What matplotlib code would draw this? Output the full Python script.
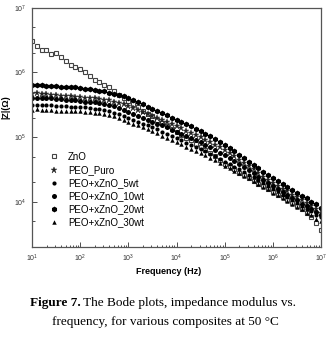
"""Bode plot |Z| vs frequency for PEO/ZnO composites at 50 C (Figure 7)."""
import matplotlib
matplotlib.use("Agg")
import matplotlib.pyplot as plt
import numpy as np
from matplotlib.ticker import FixedLocator, NullFormatter

plt.rcParams["font.family"] = ["Liberation Sans", "DejaVu Sans"]
plt.rcParams["mathtext.default"] = "regular"

# measurement sweep: 10 points per decade, 10 Hz .. 10 MHz
freq = np.logspace(1, 7, 61)
x_ticks = [1e1, 1e2, 1e3, 1e4, 1e5, 1e6, 1e7]
y_ticks = [1e4, 1e5, 1e6, 1e7]

# log10(|Z| / ohm)
zno = [6.48, 6.41, 6.35, 6.35, 6.29, 6.30, 6.24, 6.18, 6.12, 6.09, 6.05,
       6.00, 5.94, 5.88, 5.85, 5.80, 5.77, 5.71, 5.65, 5.60, 5.56,
       5.51, 5.46, 5.41, 5.36, 5.32, 5.27, 5.22, 5.17, 5.12, 5.08,
       5.04, 4.99, 4.95, 4.90, 4.85, 4.80, 4.75, 4.70, 4.64, 4.59,
       4.55, 4.50, 4.45, 4.41, 4.36, 4.32, 4.28, 4.24, 4.19, 4.15,
       4.11, 4.07, 4.03, 3.98, 3.94, 3.89, 3.83, 3.76, 3.67, 3.56]
peo_puro = [5.67, 5.68, 5.66, 5.66, 5.65, 5.65, 5.64, 5.64, 5.63, 5.62, 5.62,
            5.61, 5.61, 5.60, 5.59, 5.58, 5.57, 5.55, 5.53, 5.51, 5.48,
            5.45, 5.42, 5.39, 5.36, 5.33, 5.30, 5.27, 5.23, 5.20, 5.17,
            5.14, 5.10, 5.07, 5.03, 5.00, 4.96, 4.92, 4.88, 4.84, 4.80,
            4.75, 4.70, 4.65, 4.60, 4.55, 4.50, 4.45, 4.39, 4.34, 4.29,
            4.25, 4.20, 4.16, 4.11, 4.07, 4.02, 3.98, 3.93, 3.88, 3.83]
zno_5wt = [5.50, 5.50, 5.49, 5.49, 5.49, 5.48, 5.48, 5.48, 5.47, 5.47, 5.46,
           5.46, 5.45, 5.44, 5.43, 5.42, 5.40, 5.38, 5.36, 5.33, 5.30,
           5.27, 5.24, 5.21, 5.18, 5.15, 5.12, 5.08, 5.05, 5.01, 4.98,
           4.95, 4.91, 4.88, 4.85, 4.82, 4.78, 4.74, 4.70, 4.66, 4.62,
           4.58, 4.54, 4.50, 4.46, 4.42, 4.38, 4.34, 4.29, 4.25, 4.20,
           4.16, 4.11, 4.07, 4.02, 3.98, 3.93, 3.89, 3.85, 3.80, 3.76]
zno_10wt = [5.61, 5.61, 5.60, 5.60, 5.60, 5.59, 5.59, 5.58, 5.57, 5.57, 5.56,
            5.55, 5.55, 5.54, 5.53, 5.51, 5.50, 5.48, 5.45, 5.42, 5.39,
            5.36, 5.33, 5.30, 5.27, 5.24, 5.21, 5.18, 5.15, 5.11, 5.08,
            5.05, 5.02, 4.99, 4.95, 4.92, 4.88, 4.84, 4.80, 4.76, 4.72,
            4.67, 4.63, 4.58, 4.54, 4.49, 4.44, 4.39, 4.34, 4.29, 4.24,
            4.20, 4.15, 4.11, 4.06, 4.02, 3.97, 3.93, 3.88, 3.84, 3.79]
zno_20wt = [5.80, 5.80, 5.81, 5.79, 5.79, 5.79, 5.78, 5.78, 5.77, 5.77, 5.76,
            5.75, 5.75, 5.73, 5.72, 5.71, 5.69, 5.67, 5.65, 5.63, 5.60,
            5.57, 5.54, 5.51, 5.47, 5.44, 5.41, 5.37, 5.34, 5.30, 5.27,
            5.24, 5.20, 5.17, 5.13, 5.09, 5.05, 5.01, 4.97, 4.93, 4.88,
            4.83, 4.78, 4.73, 4.67, 4.62, 4.57, 4.52, 4.46, 4.41, 4.36,
            4.32, 4.27, 4.23, 4.18, 4.14, 4.09, 4.05, 4.00, 3.96, 3.91]
zno_30wt = [5.42, 5.43, 5.42, 5.42, 5.42, 5.41, 5.41, 5.41, 5.40, 5.40, 5.40,
            5.39, 5.39, 5.38, 5.37, 5.36, 5.34, 5.32, 5.30, 5.27, 5.24,
            5.21, 5.18, 5.15, 5.12, 5.09, 5.06, 5.02, 4.99, 4.95, 4.92,
            4.89, 4.85, 4.82, 4.79, 4.76, 4.72, 4.68, 4.64, 4.60, 4.56,
            4.52, 4.48, 4.44, 4.40, 4.36, 4.32, 4.28, 4.23, 4.19, 4.14,
            4.10, 4.05, 4.01, 3.96, 3.92, 3.88, 3.83, 3.79, 3.74, 3.70]

series = [
    ("ZnO", zno, dict(marker="s", ms=3.0, mfc="white", mec="#444444", mew=0.8)),
    ("PEO_Puro", peo_puro, dict(marker="*", ms=4.5, mfc="#222222", mec="#222222", mew=0.3)),
    ("PEO+xZnO_5wt", zno_5wt, dict(marker="o", ms=3.0, mfc="black", mec="black", mew=0)),
    ("PEO+xZnO_10wt", zno_10wt, dict(marker="o", ms=3.6, mfc="black", mec="black", mew=0)),
    ("PEO+xZnO_20wt", zno_20wt, dict(marker="h", ms=4.2, mfc="black", mec="black", mew=0)),
    ("PEO+xZnO_30wt", zno_30wt, dict(marker="^", ms=3.2, mfc="black", mec="black", mew=0)),
]

fig = plt.figure(figsize=(3.30, 3.41), dpi=100)
ax = fig.add_axes([0.097, 0.276, 0.876, 0.701])

for label, logz, style in series:
    ax.plot(freq, 10 ** np.array(logz), ls="none", label=label, **style)

ax.set_xscale("log")
ax.set_yscale("log")
ax.set_xlim(10, 1e7)
ax.set_ylim(2000, 1e7)

for s in ax.spines.values():
    s.set_color("#555555")
    s.set_linewidth(0.9)

x_minor = [m * d for d in x_ticks[:-1] for m in range(2, 10)]
y_minor = [m * d for d in [1e3] + y_ticks[:-1] for m in (2, 5) if 2000 <= m * d < 1e7]
ax.xaxis.set_major_locator(FixedLocator(x_ticks))
ax.xaxis.set_minor_locator(FixedLocator(x_minor))
ax.xaxis.set_minor_formatter(NullFormatter())
ax.yaxis.set_major_locator(FixedLocator(y_ticks))
ax.yaxis.set_minor_locator(FixedLocator(y_minor))
ax.yaxis.set_minor_formatter(NullFormatter())
ax.tick_params(which="both", direction="in", top=False, right=False,
               colors="#333333", labelsize=5, width=0.6)
ax.tick_params(which="major", length=3.5, pad=4)
ax.tick_params(which="minor", length=1.8)

ax.set_xlabel("Frequency (Hz)", fontsize=6.5, fontweight="bold")
ax.set_ylabel("|Z|(Ω)", fontsize=6.5, fontweight="bold")
ax.xaxis.set_label_coords(0.474, -0.085)
ax.yaxis.set_label_coords(-0.075, 0.586)

ax.legend(loc="lower left", bbox_to_anchor=(0.03, 0.045), frameon=False,
          fontsize=7, labelspacing=0.32, handletextpad=0.9, handlelength=1.0,
          borderaxespad=0.5)

# caption: bold "Figure 7." followed by regular text, centred as one line
cap_font = dict(family=["Liberation Serif", "DejaVu Serif"], fontsize=9.5)
renderer = fig.canvas.get_renderer()
t1 = fig.text(0.1, 1 - 303 / 341, "Figure 7.", fontweight="bold", va="center", **cap_font)
t2 = fig.text(0.3, 1 - 303 / 341, " The Bode plots, impedance modulus vs.", va="center", **cap_font)
w1 = t1.get_window_extent(renderer).width / fig.bbox.width
w2 = t2.get_window_extent(renderer).width / fig.bbox.width
x0 = 0.494 - (w1 + w2) / 2
t1.set_x(x0)
t2.set_x(x0 + w1)
fig.text(0.5, 1 - 322 / 341, "frequency, for various composites at 50 °C",
         ha="center", va="center", **cap_font)

fig.savefig("out.png", dpi=100)
